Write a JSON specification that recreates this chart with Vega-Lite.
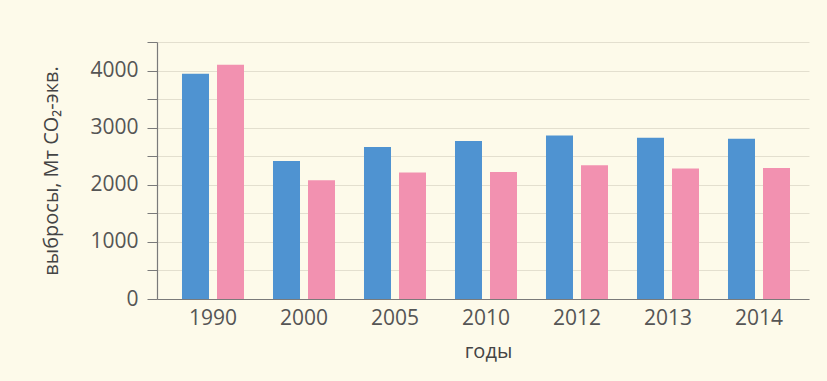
{
  "$schema": "https://vega.github.io/schema/vega-lite/v6.json",
  "width": 652,
  "height": 257,
  "autosize": {"type": "none"},
  "padding": {"left": 157, "top": 42, "right": 18, "bottom": 82},
  "background": "#fdfaea",
  "config": {
    "view": {"stroke": null},
    "font": "Open Sans",
    "axis": {"labelFont": "Open Sans", "titleFont": "Open Sans"}
  },
  "data": {
    "values": [
      {"year": "1990", "series": "ряд 1", "value": 3942},
      {"year": "1990", "series": "ряд 2", "value": 4100},
      {"year": "2000", "series": "ряд 1", "value": 2416},
      {"year": "2000", "series": "ряд 2", "value": 2079},
      {"year": "2005", "series": "ряд 1", "value": 2660},
      {"year": "2005", "series": "ряд 2", "value": 2213},
      {"year": "2010", "series": "ряд 1", "value": 2765},
      {"year": "2010", "series": "ряд 2", "value": 2224},
      {"year": "2012", "series": "ряд 1", "value": 2865},
      {"year": "2012", "series": "ряд 2", "value": 2341},
      {"year": "2013", "series": "ряд 1", "value": 2824},
      {"year": "2013", "series": "ряд 2", "value": 2283},
      {"year": "2014", "series": "ряд 1", "value": 2807},
      {"year": "2014", "series": "ряд 2", "value": 2294}
    ]
  },
  "mark": {"type": "bar"},
  "encoding": {
    "x": {
      "field": "year",
      "type": "ordinal",
      "sort": null,
      "scale": {"paddingInner": 0, "paddingOuter": 0.0824, "align": 0.7},
      "axis": {
        "title": "годы",
        "labelAngle": 0,
        "labelFontSize": 21,
        "labelColor": "#555555",
        "labelPadding": 8,
        "ticks": false,
        "domainColor": "#7a7a7a",
        "domainWidth": 1.2,
        "titleFontSize": 20,
        "titleFontWeight": "normal",
        "titleColor": "#444444",
        "titlePadding": 13,
        "titleX": 331
      }
    },
    "xOffset": {
      "field": "series",
      "type": "nominal",
      "scale": {"paddingInner": 0.2286, "paddingOuter": 0.414}
    },
    "y": {
      "field": "value",
      "type": "quantitative",
      "scale": {"domain": [0, 4500], "nice": false},
      "axis": {
        "title": "выбросы, Мт CO₂-экв.",
        "format": "d",
        "values": [0, 500, 1000, 1500, 2000, 2500, 3000, 3500, 4000, 4500],
        "labelExpr": "datum.value % 1000 === 0 && datum.value <= 4000 ? datum.label : ''",
        "labelFontSize": 21,
        "labelColor": "#555555",
        "labelPadding": 9,
        "tickSize": 10,
        "tickColor": "#7a7a7a",
        "domainColor": "#7a7a7a",
        "domainWidth": 1.2,
        "grid": true,
        "gridColor": "#e3dfcf",
        "gridWidth": 1.2,
        "titleFontSize": 20,
        "titleFontWeight": "normal",
        "titleColor": "#444444",
        "titlePadding": 28
      }
    },
    "color": {
      "field": "series",
      "type": "nominal",
      "scale": {"range": ["#4f93d1", "#f291b0"]},
      "legend": null
    }
  }
}
